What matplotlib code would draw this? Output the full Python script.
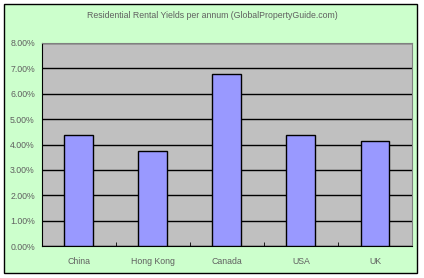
import matplotlib.pyplot as plt
from matplotlib.patches import Rectangle
from matplotlib.ticker import FuncFormatter, MultipleLocator

plt.rcParams['font.family'] = ['Liberation Sans', 'DejaVu Sans']

countries = ['China', 'Hong Kong', 'Canada', 'USA', 'UK']
yields = [4.37, 3.73, 6.77, 4.37, 4.12]

fig = plt.figure(figsize=(4.24, 2.78), dpi=100)
fig.patch.set_facecolor('white')

# outer chart area with black border
fig.patches.append(Rectangle((4 / 424, 1 - 273 / 278), 413 / 424, 269 / 278,
                             transform=fig.transFigure, facecolor='#CCFFCC',
                             edgecolor='black', linewidth=1, zorder=-5))

ax = fig.add_axes([41.7 / 424, 1 - 246 / 278, (412 - 41.7) / 424, (246 - 43) / 278])
ax.set_zorder(2)
ax.set_facecolor('#C0C0C0')

x = range(len(countries))
ax.bar(x, yields, width=0.39, color='#9999FF', edgecolor='black', linewidth=1, zorder=3)

ax.set_xlim(-0.5, len(countries) - 0.5)
ax.set_ylim(0, 8)
ax.yaxis.set_major_locator(MultipleLocator(1))
ax.yaxis.set_major_formatter(FuncFormatter(lambda v, p: f'{v:.2f}%'))
ax.grid(axis='y', color='black', linewidth=1, zorder=1)
ax.set_axisbelow(True)

ax.set_xticks(list(x))
ax.set_xticklabels(countries)
ax.set_xticks([i + 0.5 for i in range(len(countries) - 1)], minor=True)
ax.tick_params(axis='x', which='major', length=0, pad=8)
ax.tick_params(axis='x', which='minor', direction='in', length=3, color='black')
ax.tick_params(axis='y', length=0, pad=5)
ax.tick_params(labelsize=6.3, labelcolor='#606060')

for s in ['top', 'right']:
    ax.spines[s].set_color('#808080')
for s in ['left', 'bottom']:
    ax.spines[s].set_color('black')

fig.text(212 / 424, 1 - 16 / 278, 'Residential Rental Yields per annum (GlobalPropertyGuide.com)',
         ha='center', va='center', fontsize=6.3, color='#606060')

fig.savefig('out.png', dpi=100)
